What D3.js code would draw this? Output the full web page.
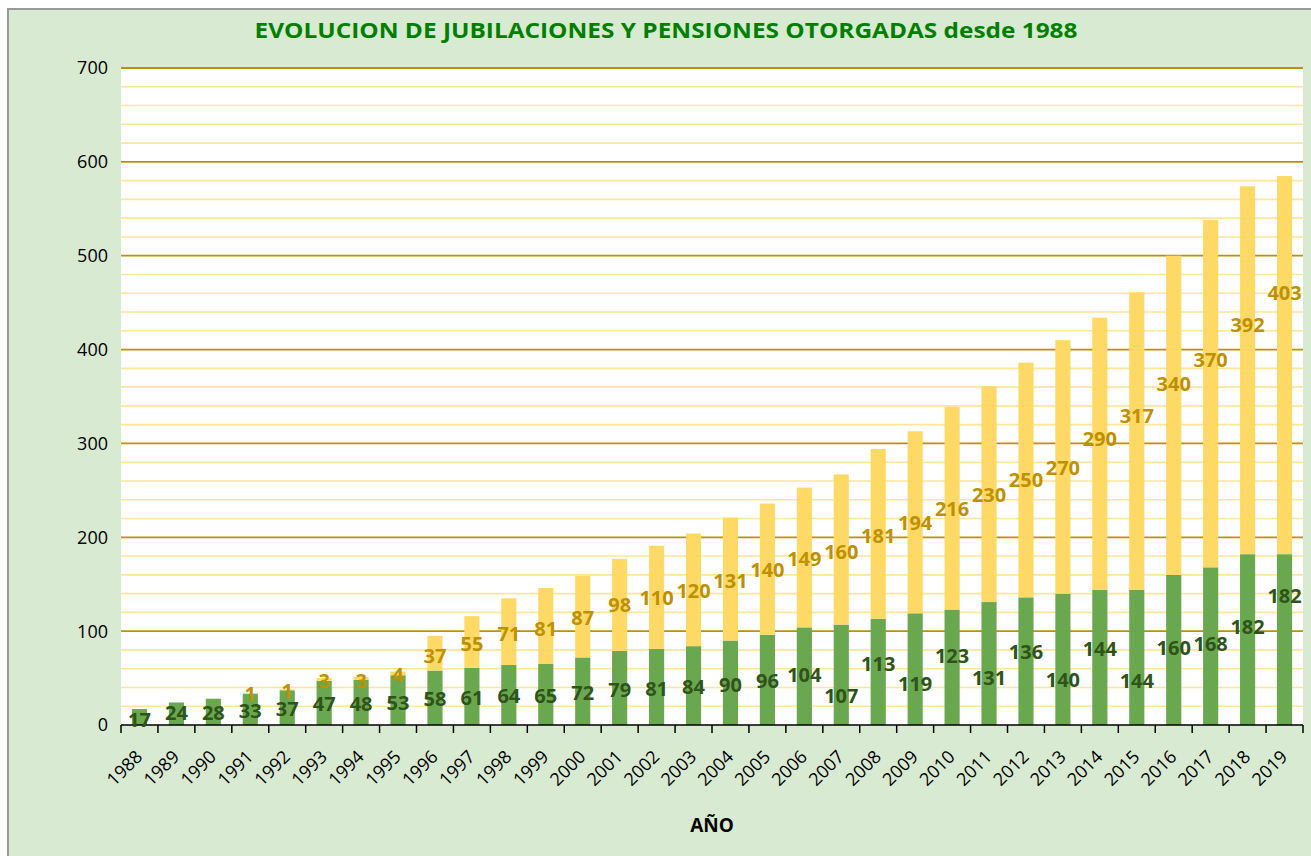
<!DOCTYPE html>
<html>
<head>
<meta charset="utf-8">
<script src="https://cdn.jsdelivr.net/npm/d3@7"></script>
<style>
  body { margin: 0; background: #ffffff; }
  svg { display: block; }
</style>
</head>
<body>
<div id="vis"></div>
<script>
const FRAME_WIDTH = 1311;
const FRAME_HEIGHT = 856;
const MARGINS = {left: 121, right: 8, top: 68, bottom: 129};

// data
const years = ["1988","1989","1990","1991","1992","1993","1994","1995","1996","1997",
               "1998","1999","2000","2001","2002","2003","2004","2005","2006","2007",
               "2008","2009","2010","2011","2012","2013","2014","2015","2016","2017",
               "2018","2019"];
const jubilaciones = [17, 24, 28, 33, 37, 47, 48, 53, 58, 61,
                      64, 65, 72, 79, 81, 84, 90, 96, 104, 107,
                      113, 119, 123, 131, 136, 140, 144, 144, 160, 168,
                      182, 182];
const pensiones = [0, 0, 0, 1, 1, 3, 3, 4, 37, 55,
                   71, 81, 87, 98, 110, 120, 131, 140, 149, 160,
                   181, 194, 216, 230, 250, 270, 290, 317, 340, 370,
                   392, 403];
// where Excel left each data label, in chart units
const jubLabelAt = [6, 13, 13, 15, 17, 23, 23, 24, 28, 29,
                    31, 31, 34, 38, 39, 41, 43, 47, 53, 31,
                    65, 44, 74, 50, 78, 48, 81, 47, 82, 86,
                    105, 138];
const penLabelAt = [null, null, null, 33, 36, 47, 47, 53, 74, 87,
                    97, 103, 114, 128, 135, 143, 154, 165, 177, 185,
                    202, 215, 230, 245, 261, 274, 305, 329, 363, 389,
                    426, 461];
const yTicks = [0, 100, 200, 300, 400, 500, 600, 700];

const PLOT_W = 1182;
const PLOT_H = FRAME_HEIGHT - MARGINS.top - MARGINS.bottom - 2;

const rows = years.map((y, i) => ({year: y, jub: jubilaciones[i], pen: pensiones[i],
                                   jl: jubLabelAt[i], pl: penLabelAt[i]}));

const svg = d3.select("#vis")
  .append("svg")
    .attr("width", FRAME_WIDTH)
    .attr("height", FRAME_HEIGHT);

// chart background with border
svg.append("rect")
  .attr("x", 8).attr("y", 9)
  .attr("width", FRAME_WIDTH).attr("height", FRAME_HEIGHT)
  .attr("fill", "#d9ead3")
  .attr("stroke", "#999999")
  .attr("stroke-width", 2);

const X_SCALE = d3.scaleBand()
  .domain(years)
  .range([MARGINS.left, MARGINS.left + PLOT_W])
  .paddingInner(0.59)
  .paddingOuter(0.295);

const Y_SCALE = d3.scaleLinear()
  .domain([0, 700])
  .range([MARGINS.top + PLOT_H, MARGINS.top]);

// plot area
svg.append("rect")
  .attr("x", MARGINS.left).attr("y", MARGINS.top)
  .attr("width", PLOT_W).attr("height", PLOT_H)
  .attr("fill", "#ffffff");

// gridlines
svg.append("g")
  .selectAll("line")
  .data(d3.range(20, 700, 20).filter(v => v % 100 !== 0))
  .enter()
  .append("line")
    .attr("x1", MARGINS.left).attr("x2", MARGINS.left + PLOT_W)
    .attr("y1", d => Y_SCALE(d)).attr("y2", d => Y_SCALE(d))
    .attr("stroke", "#ffe699")
    .attr("stroke-width", 1.6);

svg.append("g")
  .selectAll("line")
  .data(yTicks.filter(v => v > 0))
  .enter()
  .append("line")
    .attr("x1", MARGINS.left).attr("x2", MARGINS.left + PLOT_W)
    .attr("y1", d => Y_SCALE(d)).attr("y2", d => Y_SCALE(d))
    .attr("stroke", "#bf9000")
    .attr("stroke-width", 1.8);

// stacked bars
const stacked = d3.stack().keys(["jub", "pen"])(rows);
const colors = {jub: "#6aa84f", pen: "#ffd966"};

svg.append("g")
  .selectAll("g")
  .data(stacked)
  .enter()
  .append("g")
    .attr("fill", s => colors[s.key])
  .selectAll("rect")
  .data(s => s)
  .enter()
  .append("rect")
    .attr("x", d => X_SCALE(d.data.year))
    .attr("y", d => Y_SCALE(d[1]))
    .attr("width", X_SCALE.bandwidth())
    .attr("height", d => Y_SCALE(d[0]) - Y_SCALE(d[1]));

// x axis line and ticks at category edges
const baseY = Y_SCALE(0);
const half = (X_SCALE.step() - X_SCALE.bandwidth()) / 2;
const edges = years.map(y => X_SCALE(y) - half).concat([MARGINS.left + PLOT_W]);

svg.append("line")
  .attr("x1", MARGINS.left).attr("x2", MARGINS.left + PLOT_W)
  .attr("y1", baseY).attr("y2", baseY)
  .attr("stroke", "#000000")
  .attr("stroke-width", 1.5);

svg.append("g")
  .selectAll("line")
  .data(edges)
  .enter()
  .append("line")
    .attr("x1", d => d).attr("x2", d => d)
    .attr("y1", baseY).attr("y2", baseY + 8)
    .attr("stroke", "#000000")
    .attr("stroke-width", 1.5);

// x tick labels
svg.append("g")
  .attr("transform", "translate(0," + baseY + ")")
  .call(d3.axisBottom(X_SCALE).tickSize(0).tickPadding(0))
  .call(g => g.select(".domain").remove())
  .selectAll("text")
    .attr("font-family", "'Open Sans', sans-serif")
    .attr("font-size", "18px")
    .attr("fill", "#000000")
    .attr("text-anchor", "end")
    .attr("y", 0)
    .attr("dy", null)
    .attr("transform", "translate(4,33) rotate(-45)");

// y tick labels
svg.append("g")
  .selectAll("text")
  .data(yTicks)
  .enter()
  .append("text")
    .attr("x", MARGINS.left - 13)
    .attr("y", d => Y_SCALE(d))
    .attr("dy", "0.36em")
    .attr("text-anchor", "end")
    .attr("font-family", "'Open Sans', sans-serif")
    .attr("font-size", "18px")
    .attr("fill", "#000000")
    .text(d => d);

// data labels
const labelFont = "'Open Sans', sans-serif";
svg.append("g")
  .selectAll("text")
  .data(rows)
  .enter()
  .append("text")
    .attr("x", d => X_SCALE(d.year) + X_SCALE.bandwidth() / 2)
    .attr("y", d => Y_SCALE(d.jl))
    .attr("dy", "0.36em")
    .attr("text-anchor", "middle")
    .attr("font-family", labelFont)
    .attr("font-weight", "bold")
    .attr("font-size", "20px")
    .attr("fill", "#2f5318")
    .text(d => d.jub);

svg.append("g")
  .selectAll("text")
  .data(rows.filter(d => d.pen > 0))
  .enter()
  .append("text")
    .attr("x", d => X_SCALE(d.year) + X_SCALE.bandwidth() / 2)
    .attr("y", d => Y_SCALE(d.pl))
    .attr("dy", "0.36em")
    .attr("text-anchor", "middle")
    .attr("font-family", labelFont)
    .attr("font-weight", "bold")
    .attr("font-size", "20px")
    .attr("fill", "#bf9000")
    .text(d => d.pen);

// title
svg.append("text")
  .attr("x", 666)
  .attr("y", 38)
  .attr("text-anchor", "middle")
  .attr("font-family", labelFont)
  .attr("font-weight", "bold")
  .attr("font-size", "21px")
  .attr("fill", "#008000")
  .attr("textLength", 823)
  .attr("lengthAdjust", "spacingAndGlyphs")
  .text("EVOLUCION DE JUBILACIONES Y PENSIONES OTORGADAS desde 1988");

// axis title
svg.append("text")
  .attr("x", 712)
  .attr("y", 832)
  .attr("text-anchor", "middle")
  .attr("font-family", labelFont)
  .attr("font-weight", "bold")
  .attr("font-size", "19px")
  .attr("fill", "#000000")
  .text("AÑO");
</script>
</body>
</html>
